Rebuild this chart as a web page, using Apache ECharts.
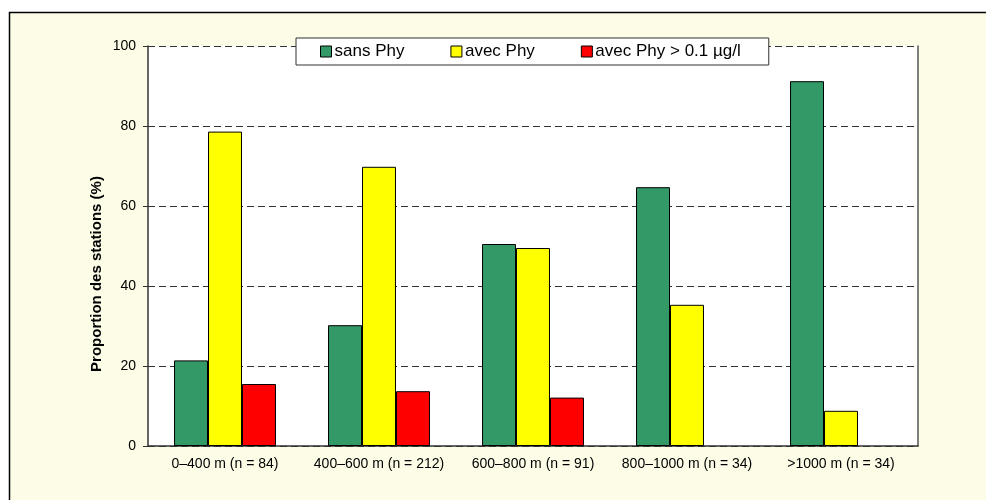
<!DOCTYPE html>
<html>
<head>
<meta charset="utf-8">
<script src="https://cdn.jsdelivr.net/npm/echarts@6/dist/echarts.min.js"></script>
<style>html,body{margin:0;padding:0;background:#fff;}#c{width:986px;height:500px;}</style>
</head>
<body>
<div id="c"></div>
<script>
const categories = ['0–400 m (n = 84)', '400–600 m (n = 212)', '600–800 m (n = 91)', '800–1000 m (n = 34)', '>1000 m (n = 34)'];
const sansPhy = [21.4, 30.2, 50.5, 64.7, 91.2];
const avecPhy = [78.6, 69.8, 49.5, 35.3, 8.8];
const avecPhySeuil = [15.5, 13.7, 12.1, 0, 0];
const seriesNames = ['sans Phy', 'avec Phy', 'avec Phy > 0.1 µg/l'];
const yTicks = [0, 20, 40, 60, 80, 100];

const FONT = 'Arial, "Liberation Sans", sans-serif';
const chart = echarts.init(document.getElementById('c'), null, {renderer: 'canvas'});
const barStyle = (c) => ({color: c, borderColor: '#000', borderWidth: 1});
const toData = (arr) => arr.map(v => v === 0 ? {value: v, itemStyle: {borderWidth: 0}} : v);
chart.setOption({
  backgroundColor: '#fff',
  animation: false,
  graphic: [
    {type: 'rect', z: -10, silent: true, shape: {x: 9.5, y: 12.5, width: 1000, height: 600},
     style: {fill: '#FDFCE7', stroke: '#000', lineWidth: 1.5}},
    {type: 'text', x: 97, y: 274, rotation: Math.PI / 2, silent: true,
     style: {text: 'Proportion des stations (%)', fontFamily: FONT, fontSize: 15, fontWeight: 'bold',
             fill: '#000', align: 'center', verticalAlign: 'middle'}}
  ],
  legend: {
    data: seriesNames,
    left: 296, top: 38,
    padding: [5, 28, 5, 24],
    icon: 'rect',
    itemGap: 46, itemWidth: 11, itemHeight: 11,
    backgroundColor: '#fff', borderColor: '#333', borderWidth: 1,
    textStyle: {fontFamily: FONT, fontSize: 17, color: '#000', padding: [0, 0, 0, -2]},
    itemStyle: {borderColor: '#000', borderWidth: 1}
  },
  grid: {left: 148, right: 68, top: 46, bottom: 54, show: true, backgroundColor: '#fff', borderWidth: 0},
  xAxis: {
    type: 'category', data: categories,
    axisLine: {lineStyle: {color: '#333', width: 1.5}},
    axisTick: {length: 5, lineStyle: {color: '#333'}},
    axisLabel: {fontFamily: FONT, fontSize: 14, color: '#000', margin: 11, interval: 0}
  },
  yAxis: [{
    type: 'value', min: 0, max: 100, interval: 20,
    axisLine: {show: true, lineStyle: {color: '#333', width: 1.5}},
    axisTick: {show: true, length: 5, lineStyle: {color: '#333'}},
    axisLabel: {fontFamily: FONT, fontSize: 14, color: '#000', margin: 12,
      formatter: (v) => yTicks.includes(v) ? String(v) : ''},
    splitLine: {show: true, lineStyle: {color: '#333', type: [7, 4], width: 1}}
  }, {
    type: 'value', min: 0, max: 100, interval: 20, position: 'right',
    axisLine: {show: true, lineStyle: {color: '#555', width: 1.5}},
    axisTick: {show: false}, axisLabel: {show: false}, splitLine: {show: false}
  }],
  series: [
    {name: seriesNames[0], type: 'bar', data: toData(sansPhy), itemStyle: barStyle('#339966'), barGap: '0%', barCategoryGap: '33.8%'},
    {name: seriesNames[1], type: 'bar', data: toData(avecPhy), itemStyle: barStyle('#FFFF00'), barGap: '0%', barCategoryGap: '33.8%'},
    {name: seriesNames[2], type: 'bar', data: toData(avecPhySeuil), itemStyle: barStyle('#FF0000'), barGap: '0%', barCategoryGap: '33.8%'}
  ]
});
</script>
</body>
</html>
